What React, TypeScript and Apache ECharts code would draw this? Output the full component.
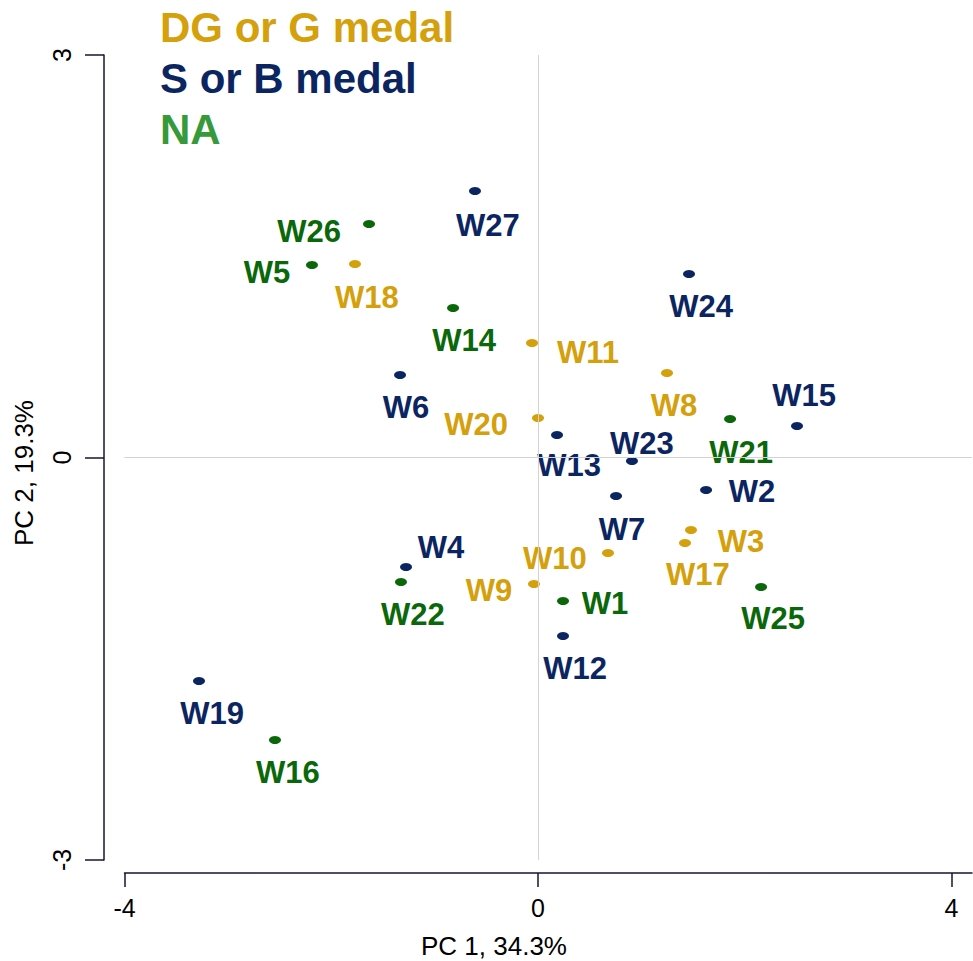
import React, { useEffect, useRef } from "react";
import * as echarts from "echarts";

// ---- data ----
const goldNames = ["W18", "W11", "W8", "W20", "W3", "W17", "W10", "W9"];
const goldX = [-1.77, -0.057, 1.249, 0.001, 1.481, 1.423, 0.678, -0.038];
const goldY = [1.442, 0.853, 0.63, 0.294, -0.54, -0.637, -0.712, -0.943];

const navyNames = ["W27", "W24", "W6", "W15", "W13", "W23", "W2", "W7", "W4", "W12", "W19"];
const navyX = [-0.609, 1.462, -1.334, 2.507, 0.185, 0.91, 1.627, 0.756, -1.276, 0.243, -3.279];
const navyY = [1.986, 1.368, 0.615, 0.235, 0.168, -0.026, -0.242, -0.287, -0.816, -1.33, -1.666];

const greenNames = ["W26", "W5", "W14", "W21", "W22", "W1", "W25", "W16"];
const greenX = [-1.634, -2.186, -0.821, 1.859, -1.325, 0.243, 2.159, -2.544];
const greenY = [1.74, 1.435, 1.114, 0.287, -0.928, -1.07, -0.965, -2.106];

const groupNames = ["DG or G medal", "S or B medal", "NA"];
const xTicks = [-4, 0, 4];
const yTicks = [-3, 0, 3];
const xTitle = "PC 1, 34.3%";
const yTitle = "PC 2, 19.3%";

// ---- label placement (style, pixels) ----
const labelOffsets: Record<string, [number, number]> = {
  W27: [13, 34], W26: [-60, 7], W5: [-45, 8], W18: [12, 33], W14: [11, 32],
  W24: [12, 33], W11: [56, 9], W8: [7, 33], W6: [6, 33], W20: [-62, 6],
  W15: [7, -30], W21: [11, 34], W13: [12, 31], W23: [10, -17], W2: [46, 2],
  W7: [6, 33], W3: [50, 12], W17: [13, 32], W10: [-53, 5], W4: [35, -19],
  W22: [12, 32], W9: [-45, 6], W1: [42, 2], W25: [12, 32], W12: [12, 33],
  W19: [13, 32], W16: [13, 32],
};

const GOLD = "#D4A00C";
const NAVY = "#0B2561";
const GREEN = "#0A680A";
const GREEN_LEGEND = "#36993A";
const FONT = "'Liberation Sans', Arial, sans-serif";

function buildData(names: string[], xs: number[], ys: number[]) {
  return names.map((n, i) => ({
    name: n,
    value: [xs[i], ys[i]],
    label: { offset: labelOffsets[n] || [0, 0] },
  }));
}

function scatter(name: string, color: string, data: any[]) {
  return {
    name,
    type: "scatter",
    z: 3,
    symbol: "circle",
    symbolSize: [12, 8],
    itemStyle: { color, opacity: 1 },
    label: {
      show: true,
      position: "inside",
      formatter: "{b}",
      color,
      opacity: 1,
      fontSize: 31,
      fontWeight: "bold",
      fontFamily: FONT,
    },
    emphasis: { disabled: true },
    data,
  };
}

export default function App() {
  const ref = useRef<HTMLDivElement>(null);
  useEffect(() => {
    if (!ref.current) return;
    const chart = echarts.init(ref.current, undefined, { renderer: "svg" });
    const axisColor = "#141433";
    chart.setOption({
      animation: false,
      backgroundColor: "#ffffff",
      textStyle: { fontFamily: FONT },
      grid: { left: 124.5, right: 1, top: 55, bottom: 101 },
      legend: {
        orient: "vertical",
        left: 155,
        top: 6,
        padding: 0,
        itemGap: 9,
        itemWidth: 0,
        itemHeight: 0,
        selectedMode: false,
        textStyle: { fontSize: 42, fontWeight: "bold", fontFamily: FONT, lineHeight: 42 },
        data: [
          { name: groupNames[0], textStyle: { color: GOLD } },
          { name: groupNames[1], textStyle: { color: NAVY } },
          { name: groupNames[2], textStyle: { color: GREEN_LEGEND } },
        ],
      },
      xAxis: {
        type: "value",
        min: -4,
        max: 4.2,
        position: "bottom",
        offset: 13,
        splitLine: { show: false },
        axisLine: { show: true, onZero: false, lineStyle: { color: axisColor, width: 1.5 } },
        axisTick: { show: true, length: 14, customValues: xTicks, lineStyle: { color: axisColor, width: 1.5 } },
        axisLabel: { customValues: xTicks, fontSize: 25, color: "#000", margin: 22, fontFamily: FONT },
      },
      yAxis: {
        type: "value",
        min: yTicks[0],
        max: yTicks[2],
        interval: 3,
        offset: 20.5,
        splitLine: { show: false },
        axisLine: { show: true, onZero: false, lineStyle: { color: axisColor, width: 1.5 } },
        axisTick: { show: true, length: 19, lineStyle: { color: axisColor, width: 1.5 } },
        axisLabel: { rotate: 90, fontSize: 25, color: "#000", margin: 30, fontFamily: FONT },
      },
      graphic: [
        {
          type: "text",
          x: 494,
          y: 946,
          style: { text: xTitle, fontSize: 26, fontFamily: FONT, fill: "#000", align: "center", verticalAlign: "middle" },
        },
        {
          type: "text",
          x: 24,
          y: 473,
          rotation: Math.PI / 2,
          style: { text: yTitle, fontSize: 26, fontFamily: FONT, fill: "#000", align: "center", verticalAlign: "middle" },
        },
      ],
      series: [
        {
          type: "scatter",
          z: 1,
          data: [],
          silent: true,
          markLine: {
            silent: true,
            symbol: ["none", "none"],
            label: { show: false },
            lineStyle: { color: "#d3d3d3", type: "solid", width: 1, opacity: 1 },
            emphasis: { disabled: true },
            data: [{ xAxis: 0 }, { yAxis: 0 }],
          },
        },
        scatter(groupNames[0], GOLD, buildData(goldNames, goldX, goldY)),
        scatter(groupNames[1], NAVY, buildData(navyNames, navyX, navyY)),
        scatter(groupNames[2], GREEN, buildData(greenNames, greenX, greenY)),
      ],
    });
    return () => chart.dispose();
  }, []);
  return (
    <div
      ref={ref}
      style={{ position: "absolute", left: 0, top: 0, width: 973, height: 961 }}
    />
  );
}
